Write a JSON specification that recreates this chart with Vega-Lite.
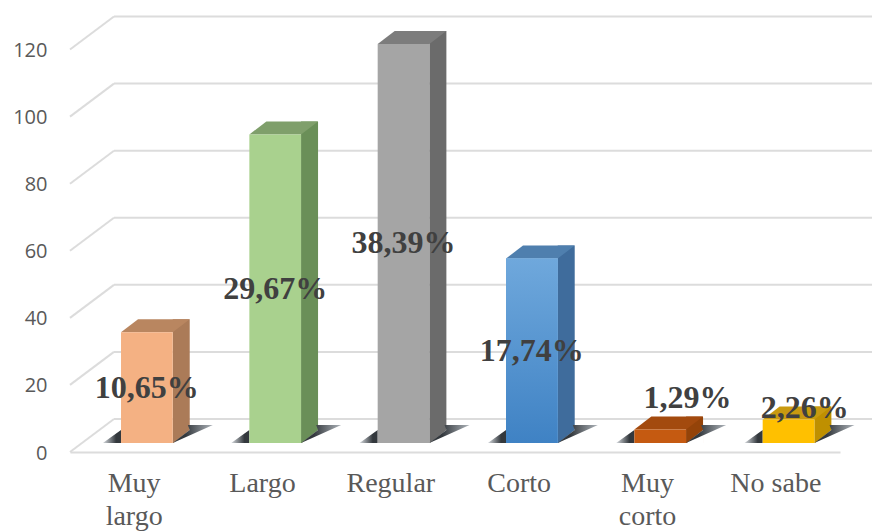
{
"$schema":"https://vega.github.io/schema/vega-lite/v6.json",
"width":770,"height":436,
"autosize":{"type":"none"},
"padding":{"left":70,"top":16,"right":32,"bottom":79},
"background":"#ffffff",
"config":{"view":{"stroke":null}},
"datasets":{
"bars":[
{"cat":"Muy largo","n":33,"pct":"10,65%"},
{"cat":"Largo","n":92,"pct":"29,67%"},
{"cat":"Regular","n":119,"pct":"38,39%"},
{"cat":"Corto","n":55,"pct":"17,74%"},
{"cat":"Muy corto","n":4,"pct":"1,29%"},
{"cat":"No sabe","n":7,"pct":"2,26%"}],
"ticks":[{"tick":0},{"tick":20},{"tick":40},{"tick":60},{"tick":80},{"tick":100},{"tick":120}]
},
"layer":[
{"data":{"name":"ticks"},
"layer":[
{"mark":{"type":"rule","color":"#dcdcdc","strokeWidth":2,"yOffset":-33},
"encoding":{
"x":{"datum":0.0571,"type":"quantitative","axis":null,"scale":{"domain":[0,1],"nice":false,"zero":false}},
"x2":{"datum":1.0416},
"y":{"field":"tick","type":"quantitative","title":null,
"scale":{"domain":[0,130],"nice":false,"zero":true},
"axis":{"values":[0,20,40,60,80,100,120],"grid":false,"domain":false,"ticks":false,"labelPadding":23,"labelFont":"Open Sans","labelFontSize":20,"labelColor":"#595959","labelOffset":1}}}},
{"mark":{"type":"rule","color":"#dcdcdc","strokeWidth":2,"y2Offset":-33},
"encoding":{
"x":{"datum":0,"type":"quantitative","axis":null,"scale":{"domain":[0,1],"nice":false,"zero":false}},
"x2":{"datum":0.0571},
"y":{"field":"tick","type":"quantitative"},
"y2":{"field":"tick"}}}
]},
{"data":{"name":"bars"},
"encoding":{
"x":{"field":"cat","type":"nominal","sort":null,"title":null,
"scale":{"type":"band","domain":["Muy largo","Largo","Regular","Corto","Muy corto","No sabe"],"paddingInner":0,"paddingOuter":0},
"axis":{"labelAngle":0,"ticks":false,"domain":true,"domainColor":"#dcdcdc","domainWidth":2,"labelFont":"Liberation Serif","labelFontSize":28,"labelColor":"#595959","labelPadding":17,"labelBaseline":"top","labelLineHeight":33,"labelExpr":"datum.label == 'No sabe' ? datum.label : split(datum.label, ' ')"}}
},
"layer":[
{"mark":{"type":"bar","width":17,"xOffset":47.05,"yOffset":-22,"y2Offset":-9},
"encoding":{
"y":{"field":"n","type":"quantitative","stack":null},
"y2":{"datum":0},
"fill":{"field":"cat","type":"nominal","legend":null,
"scale":{"domain":["Muy largo","Largo","Regular","Corto","Muy corto","No sabe"],"range":["#ab7b58","#6a8f58","#6b6b6b","#3f6c9c","#944309","#bf9000"]}}}},
{"mark":{"type":"point","shape":"M25.85,0.5 L43.5,0.5 L43.5,-13.5 Z","size":4,"filled":true,"fill":"#ffffff","opacity":1,"stroke":null,"xOffset":12.7,"yOffset":-9},
"encoding":{"y":{"datum":0,"type":"quantitative"}}},
{"mark":{"type":"point","shape":"M25.85,0 L66,-18 L41,-18 L42.85,-13 Z M-44,0 L-25.85,0 L-25.85,-13 Z","size":4,"filled":true,"opacity":1,"stroke":null,"xOffset":12.7,"yOffset":-9,
"fill":{"gradient":"linear","x1":0,"y1":0,"x2":1,"y2":0,"stops":[{"offset":0,"color":"#d8dce0"},{"offset":0.12,"color":"#33383d"},{"offset":0.75,"color":"#33383d"},{"offset":1,"color":"#aeb4ba"}]}},
"encoding":{"y":{"datum":0,"type":"quantitative"}}},
{"mark":{"type":"point","shape":"M-25.85,0 L25.85,0 L42.85,-13 L-8.85,-13 Z","size":4,"filled":true,"opacity":1,"stroke":null,"xOffset":12.7,"yOffset":-9},
"encoding":{
"y":{"field":"n","type":"quantitative"},
"fill":{"field":"cat","type":"nominal","legend":null,
"scale":{"domain":["Muy largo","Largo","Regular","Corto","Muy corto","No sabe"],"range":["#b98660","#7f9f6b","#7c7c7c","#4f7fae","#a34a0e","#c99a10"]}}}},
{"mark":{"type":"bar","width":51.7,"xOffset":12.7,"yOffset":-9,"y2Offset":-9},
"encoding":{
"y":{"field":"n","type":"quantitative","stack":null},
"y2":{"datum":0},
"fill":{"field":"cat","type":"nominal","legend":null,
"scale":{"domain":["Muy largo","Largo","Regular","Corto","Muy corto","No sabe"],"range":["#f4b183","#a9d18e","#a5a5a5","#5b9bd5","#c55a11","#ffc000"]}}}},
{"transform":[{"filter":"datum.cat == 'Corto'"}],
"mark":{"type":"bar","width":51.7,"xOffset":12.7,"yOffset":-9,"y2Offset":-9,
"fill":{"gradient":"linear","x1":0,"y1":0,"x2":0,"y2":1,"stops":[{"offset":0,"color":"#6fa8dc"},{"offset":1,"color":"#3f82c4"}]}},
"encoding":{"y":{"field":"n","type":"quantitative","stack":null},"y2":{"datum":0}}},
{"transform":[{"filter":"datum.n > 10"},{"calculate":"datum.n / 2","as":"mid"}],
"mark":{"type":"text","font":"Liberation Serif","fontWeight":"bold","fontSize":32,"color":"#404040","xOffset":12.7,"yOffset":-9,"baseline":"middle"},
"encoding":{"y":{"field":"mid","type":"quantitative"},"text":{"field":"pct"}}},
{"transform":[{"filter":"datum.cat == 'Muy corto'"}],
"mark":{"type":"text","font":"Liberation Serif","fontWeight":"bold","fontSize":32,"color":"#404040","xOffset":40,"yOffset":-41,"baseline":"middle"},
"encoding":{"y":{"field":"n","type":"quantitative"},"text":{"field":"pct"}}},
{"transform":[{"filter":"datum.cat == 'No sabe'"}],
"mark":{"type":"text","font":"Liberation Serif","fontWeight":"bold","fontSize":32,"color":"#404040","xOffset":29,"yOffset":-21,"baseline":"middle"},
"encoding":{"y":{"field":"n","type":"quantitative"},"text":{"field":"pct"}}}
],
"resolve":{"scale":{"fill":"independent"}}}
],
"resolve":{"scale":{"x":"independent"}}
}
